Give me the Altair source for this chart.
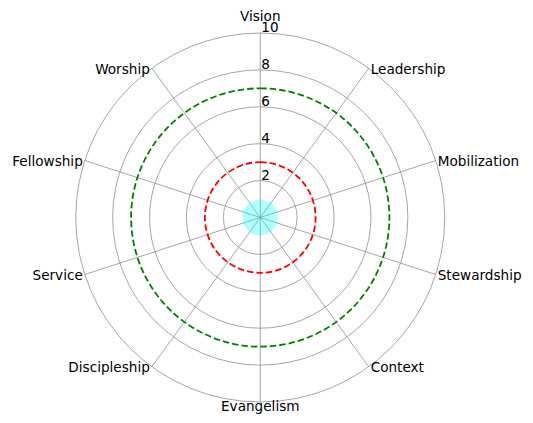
import math
import altair as alt
import pandas as pd

# ---- data ----
categories = ["Vision", "Leadership", "Mobilization", "Stewardship", "Context",
              "Evangelism", "Discipleship", "Service", "Fellowship", "Worship"]
scores = [1, 1, 1, 1, 1, 1, 1, 1, 1, 1]
radial_ticks = [2, 4, 6, 8, 10]
radial_tick_labels = ["2", "4", "6", "8", "10"]
low_threshold = [3]
high_threshold = [7]
r_max = 10

n = len(categories)
FONT = "DejaVu Sans"
FS = 13.6
GRID = "#8f8f8f"
PLOT = 369

cat_df = pd.DataFrame({"category": categories, "idx": list(range(n)), "score": scores})
tick_df = pd.DataFrame({"r": radial_ticks, "label": radial_tick_labels})
low_df = pd.DataFrame({"r": low_threshold})
high_df = pd.DataFrame({"r": high_threshold})

xs = alt.Scale(domain=[-r_max, r_max])
ys = alt.Scale(domain=[-r_max, r_max])
rs = alt.Scale(type="linear", domain=[0, r_max], range=[0, PLOT / 2], zero=True)

angle_expr = f"datum.idx * 2 * PI / {n}"

cat_base = alt.Chart(cat_df).transform_calculate(
    ang=angle_expr
).transform_calculate(
    x0="0", y0="0",
    xe=f"{r_max} * sin(datum.ang)", ye=f"{r_max} * cos(datum.ang)",
    xs_="datum.score * sin(datum.ang)", ys_="datum.score * cos(datum.ang)",
)


def ring(df, **mark_kw):
    return alt.Chart(df).mark_arc(filled=False, **mark_kw).encode(
        theta=alt.value(0), theta2=alt.value(2 * math.pi),
        radius=alt.Radius("r:Q", scale=rs, stack=None),
    )


# grid circles
grid = ring(tick_df, stroke=GRID, strokeWidth=0.8)

# spokes
spokes = cat_base.mark_rule(color=GRID, strokeWidth=0.8).encode(
    x=alt.X("x0:Q", scale=xs, axis=None),
    y=alt.Y("y0:Q", scale=ys, axis=None),
    x2="xe:Q", y2="ye:Q",
)

low = ring(low_df, stroke="#ff0000", strokeWidth=1.8, strokeDash=[6.5, 3])
high = ring(high_df, stroke="#008000", strokeWidth=1.8, strokeDash=[6.5, 3])

poly = cat_base.mark_line(filled=True, interpolate="linear-closed", fill="#00ffff",
                          fillOpacity=0.3, strokeWidth=0).encode(
    x=alt.X("xs_:Q", scale=xs, axis=None),
    y=alt.Y("ys_:Q", scale=ys, axis=None),
    order="idx:Q",
)

tick_text = alt.Chart(tick_df).transform_calculate(x0="0").mark_text(
    align="left", baseline="alphabetic", dx=1, dy=-1, font=FONT, fontSize=FS, color="black"
).encode(
    x=alt.X("x0:Q", scale=xs, axis=None),
    y=alt.Y("r:Q", scale=ys, axis=None),
    text="label:N",
)


def cat_labels(filter_expr, align, dx, dy):
    return cat_base.transform_filter(filter_expr).mark_text(
        align=align, baseline="alphabetic", dx=dx, dy=dy,
        font=FONT, fontSize=FS, color="black"
    ).encode(
        x=alt.X("xe:Q", scale=xs, axis=None),
        y=alt.Y("ye:Q", scale=ys, axis=None),
        text="category:N",
    )


half = n // 2
lab_top = cat_labels("datum.idx == 0", "center", 0, -12)
lab_bot = cat_labels(f"datum.idx == {half}", "center", 0, 9)
lab_right = cat_labels(f"datum.idx > 0 && datum.idx < {half}", "left", 2, 5.5)
lab_left = cat_labels(f"datum.idx > {half}", "right", -2, 5.5)

chart = alt.layer(
    grid, spokes, low, high, poly, tick_text, lab_top, lab_bot, lab_right, lab_left
).properties(
    width=PLOT, height=PLOT,
    autosize=alt.AutoSizeParams(type="none"),
    padding={"left": 75.75, "top": 33, "right": 88.25, "bottom": 21},
).configure_view(stroke=None)

chart.save("out.html", embed_options={"renderer": "svg", "actions": False})
